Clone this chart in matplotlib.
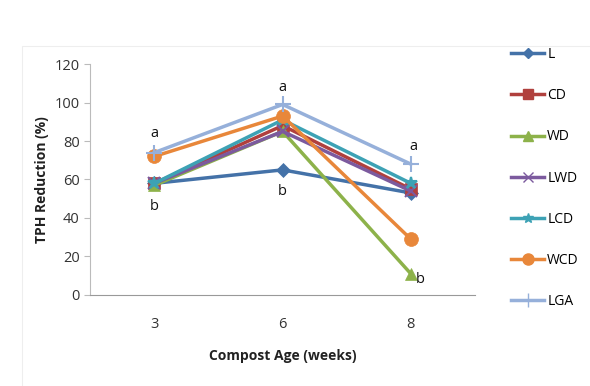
import matplotlib
matplotlib.use("Agg")
import matplotlib.pyplot as plt
from matplotlib.lines import Line2D

plt.rcParams["font.family"] = ["Open Sans", "DejaVu Sans"]

weeks = ["3", "6", "8"]
series_names = ["L", "CD", "WD", "LWD", "LCD", "WCD", "LGA"]
L = [58, 65, 53]
CD = [58, 88, 55]
WD = [57, 85, 11]
LWD = [58, 85, 54]
LCD = [58, 91, 58]
WCD = [72, 93, 29]
LGA = [74, 99, 68]
series_values = [L, CD, WD, LWD, LCD, WCD, LGA]

# significance letters: (week index, value, letter)
letters_x = [0, 0, 1, 1, 2, 2]
letters_y = [84, 46, 108, 54, 77, 8]
letters = ["a", "b", "a", "b", "a", "b"]

colors = ["#4472a8", "#b0403d", "#8db24a", "#7c5a9e", "#3da2b5", "#e8873a", "#96b0da"]
markers = ["D", "s", "^", "x", "*", "o", "+"]
msizes = [7, 9, 9, 9, 9, 10, 12]

fig = plt.figure(figsize=(5.9, 3.86), dpi=100)
ax = fig.add_axes([0.153, 0.236, 0.652, 0.598])

xs = list(range(len(weeks)))
handles = []
for name, vals, c, m, ms in zip(series_names, series_values, colors, markers, msizes):
    ax.plot(xs, vals, color=c, lw=2.5, marker=m, markersize=ms,
            markeredgewidth=1.5 if m in "x*+" else 0.5, markeredgecolor=c,
            zorder=3)
    handles.append(Line2D([0], [0], color=c, lw=2.5, marker=m, markersize=ms * 0.8,
                          markeredgecolor=c))

for x, y, t in zip(letters_x, letters_y, letters):
    dx = 0.07 if (x == 2 and t == "b") else 0.02 if x == 2 else 0
    ax.text(x + dx, y, t, ha="center", va="center", fontsize=10.5, color="#111")

ax.set_xlim(-0.5, 2.5)
ax.set_ylim(0, 120)
ax.set_yticks(range(0, 121, 20))
ax.set_xticks(xs)
ax.set_xticklabels(weeks)
for s in ["top", "right"]:
    ax.spines[s].set_visible(False)
ax.spines["left"].set_color("#bbbbbb")
ax.spines["bottom"].set_color("#999999")
ax.tick_params(axis="y", colors="#bbbbbb", labelcolor="#333333", labelsize=10.5, length=4)
ax.tick_params(axis="x", colors="#bbbbbb", labelcolor="#333333", labelsize=10.5, length=0, pad=16)
ax.set_ylabel("TPH Reduction (%)", fontsize=10, fontweight="bold", color="#222")
ax.set_xlabel("Compost Age (weeks)", fontsize=10, fontweight="bold", color="#222", labelpad=12)

fig.legend(handles, series_names, loc="upper left", bbox_to_anchor=(0.845, 0.91),
           frameon=False, labelspacing=1.88, handlelength=2.4, handletextpad=0.2,
           fontsize=10)

fig.patches.append(plt.Rectangle((0.037, -0.1), 1.0, 0.98, transform=fig.transFigure,
                                 fill=False, edgecolor="#eeeeee", lw=0.8))

fig.savefig("out.png", dpi=100)
